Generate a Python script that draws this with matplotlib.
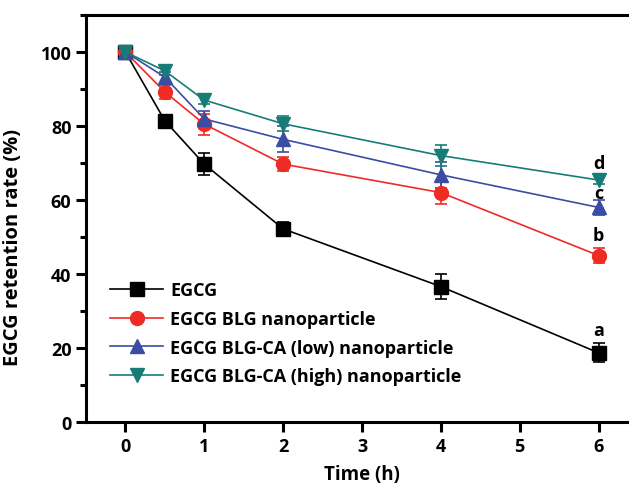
import matplotlib
matplotlib.use("Agg")
import matplotlib.pyplot as plt
from matplotlib.ticker import MultipleLocator

plt.rcParams['font.family'] = ['Open Sans', 'DejaVu Sans']

time_h = [0, 0.5, 1, 2, 4, 6]

egcg = [100, 81.4, 69.7, 52.2, 36.6, 18.7]
egcg_err = [0.8, 1.2, 3.0, 1.8, 3.3, 2.6]

blg = [100, 89.2, 80.5, 69.7, 62.0, 45.0]
blg_err = [0.8, 1.8, 2.8, 1.8, 3.0, 2.0]

blg_ca_low = [100, 93.2, 81.9, 76.4, 66.8, 58.0]
blg_ca_low_err = [0.8, 1.5, 2.2, 3.5, 3.5, 2.0]

blg_ca_high = [100, 94.9, 87.0, 80.6, 72.0, 65.4]
blg_ca_high_err = [0.8, 1.2, 1.0, 2.0, 2.8, 1.0]

labels = ["EGCG", "EGCG BLG nanoparticle", "EGCG BLG-CA (low) nanoparticle",
          "EGCG BLG-CA (high) nanoparticle"]
colors = ["#000000", "#ee2b24", "#3a4da2", "#167d76"]
markers = ["s", "o", "^", "v"]

sig_letters = ["a", "b", "c", "d"]
sig_y = [25, 50.5, 62, 70]

fig = plt.figure(figsize=(6.29, 4.89), dpi=100)
# axes is cropped on the right in the original figure
ax = fig.add_axes([86 / 629, 66 / 489, 552 / 629, 407 / 489])

series = [(egcg, egcg_err), (blg, blg_err), (blg_ca_low, blg_ca_low_err),
          (blg_ca_high, blg_ca_high_err)]
handles = []
for (vals, errs), lab, col, mk in zip(series, labels, colors, markers):
    c = ax.errorbar(time_h, vals, yerr=errs, color=col, marker=mk, markersize=10,
                    linewidth=1.2, elinewidth=1.2, capsize=4, capthick=1.2,
                    label=lab)
    handles.append(c[0])

for letter, yv in zip(sig_letters, sig_y):
    ax.text(6, yv, letter, ha="center", va="center", fontsize=13, fontweight="bold")

ax.set_xlim(-0.5, 6.5)
ax.set_ylim(0, 110)
ax.xaxis.set_major_locator(MultipleLocator(1))
ax.yaxis.set_major_locator(MultipleLocator(20))
ax.yaxis.set_minor_locator(MultipleLocator(10))

for side in ["left", "bottom", "top", "right"]:
    ax.spines[side].set_linewidth(2.2)
ax.tick_params(which="both", direction="out", width=2.2, top=False, right=False)
ax.tick_params(which="major", length=7, labelsize=13)
ax.tick_params(which="minor", length=4)
for t in ax.get_xticklabels() + ax.get_yticklabels():
    t.set_fontweight("bold")

ax.set_xlabel("Time (h)", fontsize=13.5, fontweight="bold", labelpad=7)
ax.set_ylabel("EGCG retention rate (%)", fontsize=14.5, fontweight="bold")
ax.yaxis.set_label_coords(-0.115, 0.43)

leg = ax.legend(handles, labels, loc="upper left",
                bbox_to_anchor=((110 - 86) / 552, (423 - 282) / 407),
                frameon=False, fontsize=13, handlelength=2.95, handletextpad=0.4,
                labelspacing=0.6, borderpad=0, borderaxespad=0)
for t in leg.get_texts():
    t.set_fontweight("bold")

fig.savefig("out.png", dpi=100)
